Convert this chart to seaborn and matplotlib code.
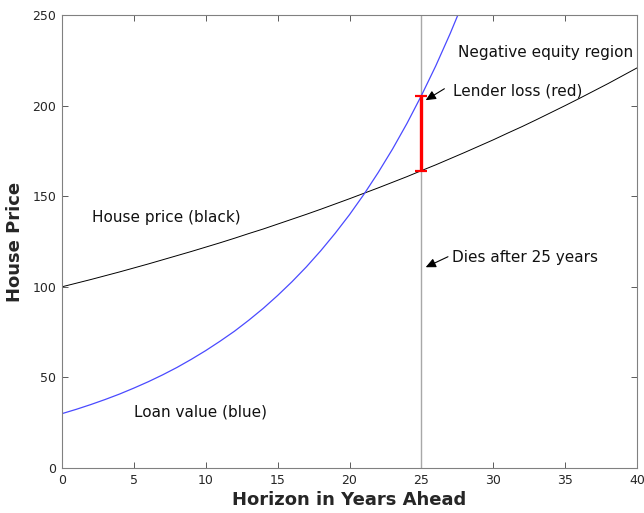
import numpy as np
import pandas as pd
import matplotlib
matplotlib.use("Agg")
import matplotlib.pyplot as plt
import seaborn as sns

# ---- data ----
house_years = list(range(0, 41))
house_price = [100.0, 102.0, 104.0, 106.1, 108.2, 110.4, 112.6, 114.9, 117.2, 119.5,
               121.9, 124.3, 126.8, 129.4, 131.9, 134.6, 137.3, 140.0, 142.8, 145.7,
               148.6, 151.6, 154.6, 157.7, 160.8, 164.1, 167.3, 170.7, 174.1, 177.6,
               181.1, 184.8, 188.4, 192.2, 196.1, 200.0, 204.0, 208.1, 212.2, 216.5,
               220.8]
loan_years = list(range(0, 29))
loan_value = [30.0, 32.4, 35.0, 37.8, 40.8, 44.1, 47.6, 51.4, 55.5, 60.0,
              64.8, 70.0, 75.5, 81.6, 88.1, 95.2, 102.8, 111.0, 119.9, 129.5,
              139.8, 151.0, 163.1, 176.1, 190.2, 205.5, 221.9, 239.7, 258.8]
death_year = 25
loss_low = 164.1
loss_high = 205.5
x_ticks = [0, 5, 10, 15, 20, 25, 30, 35, 40]
y_ticks = [0, 50, 100, 150, 200, 250]

house_df = pd.DataFrame({"year": house_years, "value": house_price})
loan_df = pd.DataFrame({"year": loan_years, "value": loan_value})

sns.set_style("ticks")
plt.rcParams["font.family"] = ["DejaVu Sans"]

fig = plt.figure(figsize=(6.44, 5.13), dpi=100)
ax = fig.add_axes([62/644, 45/513, 575/644, 453/513])

ax.axvline(death_year, color="#a8a8a8", lw=1.0, zorder=1)
sns.lineplot(data=house_df, x="year", y="value", color="black", lw=0.7, ax=ax)
sns.lineplot(data=loan_df, x="year", y="value", color="#4a4aff", lw=0.9, ax=ax)

mid = (loss_low + loss_high) / 2
ax.errorbar([death_year], [mid], yerr=[[mid - loss_low], [loss_high - mid]],
            fmt="none", ecolor="#ff0000", elinewidth=2.4, capsize=4, capthick=1.6, zorder=5)

ax.set_xlim(0, 40)
ax.set_ylim(0, 250)
ax.set_xticks(x_ticks)
ax.set_yticks(y_ticks)
ax.tick_params(direction="in", length=4, width=0.6, colors="#404040",
               labelcolor="#262626", labelsize=9, top=True, right=True, pad=4)
for s in ax.spines.values():
    s.set_visible(True)
    s.set_color("#808080")
    s.set_linewidth(0.8)

ax.set_xlabel("Horizon in Years Ahead", fontsize=13, fontweight="bold", color="#262626", labelpad=3)
ax.set_ylabel("House Price", fontsize=13, fontweight="bold", color="#262626", labelpad=6)

tfs = 11
ax.text(27.55, 229.5, "Negative equity region", fontsize=tfs, va="center", ha="left", color="#111111")
ax.text(2.1, 138, "House price (black)", fontsize=tfs, va="center", ha="left", color="#111111")
ax.text(5.0, 31, "Loan value (blue)", fontsize=tfs, va="center", ha="left", color="#111111")
ax.text(27.2, 208.0, "Lender loss (red)", fontsize=tfs, va="center", ha="left", color="#111111")
ax.text(27.15, 116.0, "Dies after 25 years", fontsize=tfs, va="center", ha="left", color="#111111")

arrow_kw = dict(arrowstyle="-|>,head_length=0.6,head_width=0.28", color="black", lw=0.8,
                shrinkA=0, shrinkB=0)
ax.annotate("", xy=(25.3, 203.0), xytext=(26.6, 209.3), arrowprops=arrow_kw)
ax.annotate("", xy=(25.3, 110.8), xytext=(26.85, 116.6), arrowprops=arrow_kw)

fig.savefig("out.png", dpi=100)
